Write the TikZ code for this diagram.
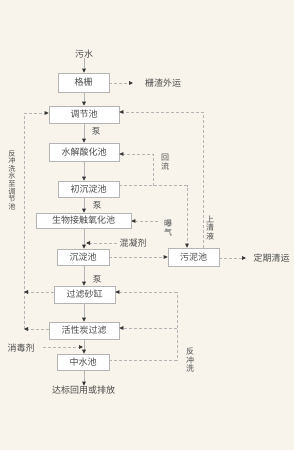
\documentclass[tikz,border=0pt]{standalone}
\usepackage{fontspec}
\setmainfont{Noto Sans CJK SC}
\usetikzlibrary{arrows.meta,calc}
\definecolor{bg}{HTML}{F8F4EC}
\definecolor{ln}{HTML}{B4B4B4}
\definecolor{tx}{HTML}{4A4A4A}
\definecolor{ah}{HTML}{333333}
\begin{document}
\begin{tikzpicture}[x=1pt,y=-1pt,
  box/.style={draw=ln,fill=white,line width=0.7pt,inner sep=0pt,text=tx,font=\fontsize{9}{9}\selectfont},
  lbl/.style={text=tx,inner sep=0pt,font=\fontsize{9}{9}\selectfont},
  vlbl/.style={text=tx,inner sep=0pt,align=center,font=\fontsize{8}{8.6}\selectfont},
  flow/.style={draw=ln,line width=0.8pt,-{Triangle[length=4pt,width=3.6pt,color=ah]}},
  dflow/.style={draw=ln,line width=0.7pt,dash pattern=on 3pt off 2pt,-{Triangle[length=4pt,width=3.6pt,color=ah]}},
  dline/.style={draw=ln,line width=0.7pt,dash pattern=on 3pt off 2pt}]
\fill[bg] (0,0) rectangle (294,450);
\coordinate (mx) at (84,0);
% nodes
\node[lbl] (src) at (84,54) {污水};
\node[box,minimum width=51pt,minimum height=19pt] (gs) at (83.5,82.5) {格栅};
\node[lbl] (gz) at (163,83.5) {栅渣外运};
\node[box,minimum width=70pt,minimum height=17pt] (tj) at (84,114.5) {调节池};
\node[lbl,font=\fontsize{8.5}{8.5}\selectfont] (b1) at (96,131) {泵};
\node[box,minimum width=70pt,minimum height=18pt] (sj) at (84,152) {水解酸化池};
\node[box,minimum width=61pt,minimum height=16pt] (cc) at (88.5,189) {初沉淀池};
\node[lbl,font=\fontsize{8.5}{8.5}\selectfont] (b2) at (97,205) {泵};
\node[box,minimum width=95pt,minimum height=15pt] (sw) at (83.5,220.5) {生物接触氧化池};
\node[lbl] (hn) at (133,243) {混凝剂};
\node[box,minimum width=52pt,minimum height=16pt] (cd) at (83,257) {沉淀池};
\node[box,minimum width=51pt,minimum height=18pt] (wn) at (193.5,257) {污泥池};
\node[lbl] (qy) at (271.5,258.5) {定期清运};
\node[lbl,font=\fontsize{8.5}{8.5}\selectfont] (b3) at (97,279) {泵};
\node[box,minimum width=61pt,minimum height=17pt] (gl) at (84.5,294.5) {过滤砂缸};
\node[box,minimum width=70pt,minimum height=17pt] (hx) at (84,330.5) {活性炭过滤};
\node[lbl] (xd) at (21,348) {消毒剂};
\node[box,minimum width=52pt,minimum height=16pt] (zs) at (83,362) {中水池};
\node[lbl] (dst) at (83.5,390) {达标回用或排放};
% vertical labels
\node[vlbl,font=\fontsize{7.2}{7.6}\selectfont] (lt) at (12,180) {反\\冲\\洗\\水\\至\\调\\节\\池};
\node[vlbl] (sq) at (210,228) {上\\清\\液};
\node[vlbl] (hl) at (165,162) {回\\流};
\node[vlbl] (bq) at (168,228) {曝\\气};
\node[vlbl] (fc) at (190,360) {反\\冲\\洗};
% main flow
\draw[flow] (src.south -| mx) -- (gs.north -| mx);
\draw[flow] (gs.south -| mx) -- (tj.north -| mx);
\draw[flow] (tj.south -| mx) -- (sj.north -| mx);
\draw[flow] (sj.south -| mx) -- (cc.north -| mx);
\draw[flow] (cc.south -| mx) -- (sw.north -| mx);
\draw[flow] (sw.south -| mx) -- (cd.north -| mx);
\draw[flow] (cd.south -| mx) -- (gl.north -| mx);
\draw[flow] (gl.south -| mx) -- (hx.north -| mx);
\draw[flow] (hx.south -| mx) -- (zs.north -| mx);
\draw[flow] (zs.south -| mx) -- (dst.north -| mx);
% side flows
\coordinate (G1) at (133,83);
\draw[dflow] (gs.east |- G1) -- (G1);
\coordinate (Q1) at (246,258);
\draw[dflow] (wn.east |- Q1) -- (Q1);
\draw[dflow] (cd.east) -- (wn.west);
% left backwash line
\coordinate (L1) at (24,113);
\coordinate (L2) at (24,292);
\coordinate (L3) at (24,329);
\draw[dline] (L3) -- (L1);
\draw[dflow] (L1) -- (tj.west |- L1);
\draw[dflow] (gl.west |- L2) -- (L2);
\draw[dflow] (hx.west |- L3) -- (L3);
% supernatant
\coordinate (R1) at (203,112);
\draw[dflow] (wn.north -| R1) -- (R1) -- (tj.east |- R1);
% return sludge
\coordinate (H1) at (153,185.5);
\coordinate (H2) at (153,154);
\coordinate (H3) at (187,185.5);
\draw[dflow] (cc.east |- H1) -- (H3) -- (wn.north -| H3);
\draw[dflow] (H1) -- (H2) -- (sj.east |- H2);
% aeration
\coordinate (B1) at (158,221);
\draw[dflow] (B1) -- (sw.east |- B1);
% coagulant
\coordinate (M1) at (117,243);
\coordinate (M2) at (86,243);
\draw[dflow] (M1) -- (M2);
% right backwash
\coordinate (F1) at (177,292);
\coordinate (F2) at (177,328);
\coordinate (F3) at (177,360);
\draw[dline] (zs.east |- F3) -- (F3) -- (F1);
\draw[dflow] (F1) -- (gl.east |- F1);
\draw[dflow] (F2) -- (hx.east |- F2);
% disinfectant
\coordinate (X1) at (43,347);
\coordinate (X2) at (83,347);
\draw[dflow] (X1) -- (X2);
\end{tikzpicture}
\end{document}
